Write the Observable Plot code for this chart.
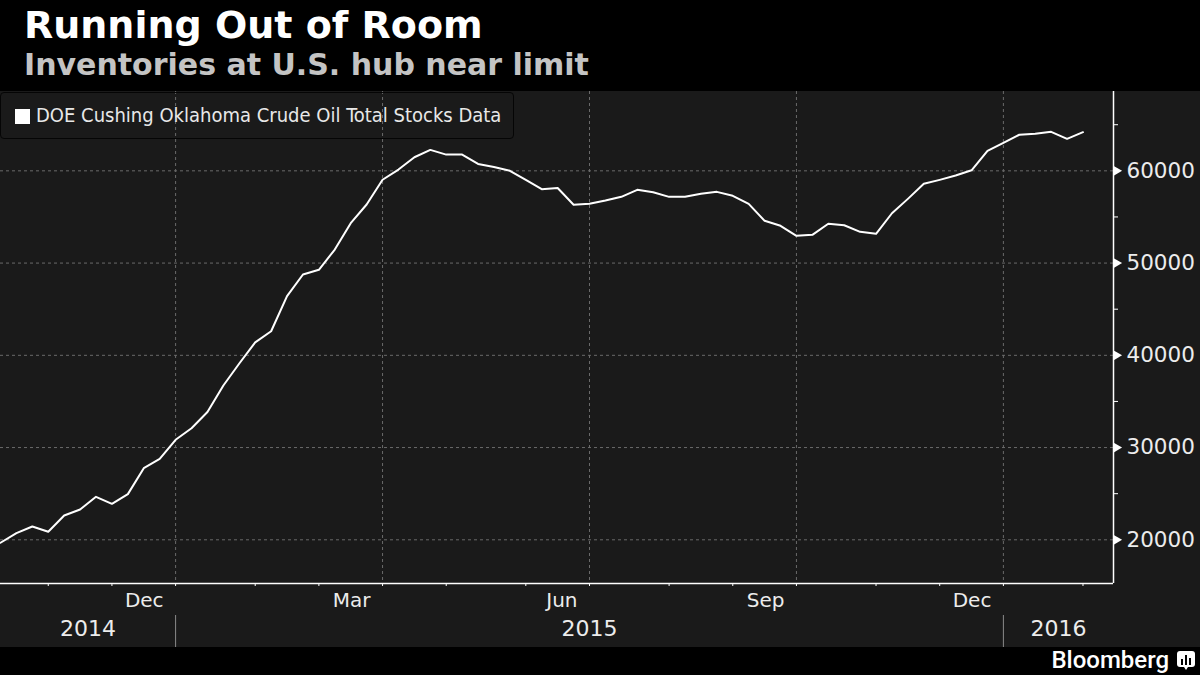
<!DOCTYPE html>
<html>
<head>
<meta charset="utf-8">
<script src="https://cdn.jsdelivr.net/npm/d3@7"></script>
<script src="https://cdn.jsdelivr.net/npm/@observablehq/plot@0.6"></script>
<style>
  html, body { margin: 0; padding: 0; background: #000; }
  body { width: 1200px; height: 675px; overflow: hidden; position: relative; font-family: "DejaVu Sans", sans-serif; }
  #header { position: relative; height: 91px; background: #000; }
  #title { position: absolute; left: 24px; top: 3px; font-size: 38px; font-weight: bold; color: #fff; white-space: nowrap; }
  #subtitle { position: absolute; left: 24px; top: 47px; font-size: 30px; font-weight: bold; color: #c4c4c4; white-space: nowrap; }
  #chart { position: relative; height: 556px; }
  #chart svg { display: block; }
  #legend { position: absolute; left: 0px; top: 1px; width: 514px; height: 47px; box-sizing: border-box;
            border: 1px solid #050505; border-radius: 4px; }
  #legend .sw { position: absolute; left: 14px; top: 16px; width: 15px; height: 15px; background: #fff; }
  #legend .lab { position: absolute; left: 35px; top: 10px; font-size: 20px; color: #e8e8e8; white-space: nowrap;
                 font-family: "DejaVu Sans Condensed", "DejaVu Sans", sans-serif; font-stretch: condensed; }
  #footer { position: relative; height: 28px; background: #000; }
  #brand { position: absolute; right: 31px; top: -1px; font-size: 24px; font-weight: 500; color: #fff;
           font-family: Roboto, "DejaVu Sans", sans-serif; }
  #icon { position: absolute; right: 5px; top: 4px; }
</style>
</head>
<body>
<div id="header">
  <div id="title">Running Out of Room</div>
  <div id="subtitle">Inventories at U.S. hub near limit</div>
</div>
<div id="chart">
  <div id="legend"><div class="sw"></div><div class="lab">DOE Cushing Oklahoma Crude Oil Total Stocks Data</div></div>
</div>
<div id="footer">
  <div id="brand">Bloomberg</div>
  <svg id="icon" width="18" height="20" viewBox="0 0 18 20">
    <rect x="0" y="0" width="18" height="16" rx="3" fill="#fff"/>
    <path d="M7 16 L9 19 L11 16 Z" fill="#fff"/>
    <rect x="4" y="8" width="2" height="6" fill="#000"/>
    <rect x="8" y="4" width="2" height="10" fill="#000"/>
    <rect x="12" y="7" width="2" height="7" fill="#000"/>
  </svg>
</div>
<script>
// ---- Data (weekly, thousand barrels) ----
const dates = [
  "2014-09-19","2014-09-26","2014-10-03","2014-10-10","2014-10-17","2014-10-24","2014-10-31",
  "2014-11-07","2014-11-14","2014-11-21","2014-11-28","2014-12-05","2014-12-12","2014-12-19",
  "2014-12-26","2015-01-02","2015-01-09","2015-01-16","2015-01-23","2015-01-30","2015-02-06",
  "2015-02-13","2015-02-20","2015-02-27","2015-03-06","2015-03-13","2015-03-20","2015-03-27",
  "2015-04-03","2015-04-10","2015-04-17","2015-04-24","2015-05-01","2015-05-08","2015-05-15",
  "2015-05-22","2015-05-29","2015-06-05","2015-06-12","2015-06-19","2015-06-26","2015-07-03",
  "2015-07-10","2015-07-17","2015-07-24","2015-07-31","2015-08-07","2015-08-14","2015-08-21",
  "2015-08-28","2015-09-04","2015-09-11","2015-09-18","2015-09-25","2015-10-02","2015-10-09",
  "2015-10-16","2015-10-23","2015-10-30","2015-11-06","2015-11-13","2015-11-20","2015-11-27",
  "2015-12-04","2015-12-11","2015-12-18","2015-12-25","2016-01-01","2016-01-08"
];
const stocks = [
  19680, 20720, 21440, 20870, 22630, 23290, 24660,
  23900, 24950, 27760, 28780, 30840, 32100, 33850,
  36730, 39110, 41410, 42610, 46410, 48760, 49270,
  51470, 54320, 56350, 59030, 60140, 61470, 62270,
  61760, 61760, 60750, 60420, 60000, 59030, 58010,
  58140, 56320, 56420, 56780, 57180, 57940, 57680,
  57180, 57180, 57510, 57720, 57290, 56420, 54580,
  54040, 52950, 53060, 54260, 54100, 53390, 53170,
  55400, 56960, 58590, 59020, 59490, 60060, 62170,
  63040, 63910, 64010, 64230, 63470, 64190
];
const seriesName = "DOE Cushing Oklahoma Crude Oil Total Stocks Data";

// ---- Axis ticks ----
const yTicks = [20000, 30000, 40000, 50000, 60000];
const yMinorTicks = [25000, 35000, 45000, 55000, 65000];
const monthTicks = ["2014-12-05","2015-03-06","2015-06-05","2015-09-04","2015-12-04"];
const monthMinorTicks = ["2014-10-10","2014-11-07","2015-01-09","2015-02-06","2015-04-03","2015-05-08",
                         "2015-07-10","2015-08-07","2015-10-09","2015-11-06","2016-01-08"];
const years = ["2014", "2015", "2016"];
const yearBreaks = ["2014-12-05", "2015-12-04"];

// ---- Scale domains ----
const xDomain = [new Date("2014-09-19"), new Date("2016-01-21T10:00:00Z")];
const yDomain = [15263, 68600];

const data = dates.map((d, i) => ({date: new Date(d), value: stocks[i]}));
const majorDates = monthTicks.map(d => new Date(d));
const minorDates = monthMinorTicks.map(d => new Date(d));
const breakDates = yearBreaks.map(d => new Date(d));
const bounds = [xDomain[0], ...breakDates, xDomain[1]];
const yearMid = years.map((y, i) => new Date((+bounds[i] + +bounds[i + 1]) / 2));

const grid = {stroke: "#6a6a6a", strokeOpacity: 1, strokeDasharray: "3,3", strokeWidth: 1};

const chart = Plot.plot({
  width: 1200,
  height: 556,
  marginTop: 0,
  marginLeft: 0,
  marginRight: 87,
  marginBottom: 64,
  style: {background: "#1a1a1a", color: "#ececec", fontFamily: "DejaVu Sans, sans-serif", overflow: "visible"},
  x: {type: "utc", domain: xDomain, axis: null},
  y: {domain: yDomain, axis: null},
  marks: [
    Plot.gridY(yTicks, grid),
    Plot.gridX(majorDates, grid),
    Plot.ruleX([xDomain[1]], {stroke: "#fff", strokeWidth: 1.5}),
    Plot.ruleY([yDomain[0]], {stroke: "#fff", strokeWidth: 1.5}),
    Plot.line(data, {x: "date", y: "value", stroke: "#fff", strokeWidth: 2, title: () => seriesName}),
    Plot.axisY(yTicks, {anchor: "right", tickSize: 0, tickPadding: 13, tickFormat: d3.format("d"),
                        fontSize: 21.5, fill: "#ececec", label: null}),
    Plot.axisY(yMinorTicks, {anchor: "right", tickSize: 4, tickFormat: () => "", stroke: "#fff", label: null}),
    Plot.dot(yTicks, {y: d => d, frameAnchor: "right", symbol: "triangle", rotate: 90, r: 3.6, fill: "#fff", stroke: null, dx: 3}),
    Plot.axisX([...majorDates, ...minorDates], {tickSize: 3, tickFormat: () => "", stroke: "#fff", label: null}),
    Plot.axisX(majorDates, {tickSize: 0, tickPadding: 9, tickFormat: d3.utcFormat("%b"), textAnchor: "end", dx: -12,
                            fontSize: 20, fill: "#ececec", label: null}),
    Plot.axisX(breakDates, {tickSize: 32, dy: 32, tickFormat: () => "", stroke: "#8a8a8a", label: null}),
    Plot.text(years, {x: (d, i) => yearMid[i], frameAnchor: "bottom", dy: 52, text: d => d, fontSize: 22, fill: "#ececec"})
  ]
});
document.getElementById("chart").prepend(chart);
</script>
</body>
</html>
